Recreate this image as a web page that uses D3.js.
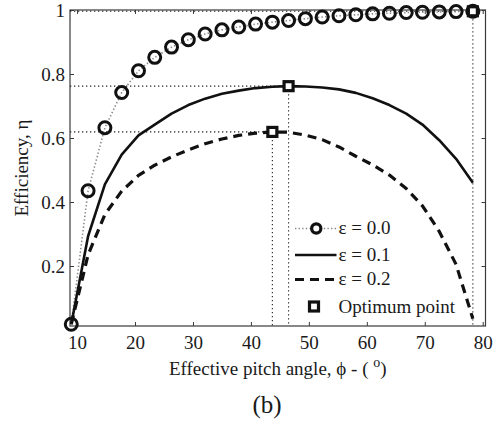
<!DOCTYPE html>
<html>
<head>
<meta charset="utf-8">
<script src="https://cdn.jsdelivr.net/npm/d3@7/dist/d3.min.js"></script>
<style>
  html, body { margin: 0; padding: 0; background: #fff; }
  svg { display: block; }
  text { font-family: "Liberation Serif", "Times New Roman", serif; fill: #1a1a1a; }
</style>
</head>
<body>
<svg id="chart" width="498" height="423"></svg>
<script>
// Effective pitch angle (degrees) at which efficiency was evaluated
const phi = [9.0, 11.9, 14.8, 17.7, 20.6, 23.4, 26.3, 29.2, 32.1, 35.0, 37.9, 40.8, 43.7,
             46.5, 49.4, 52.3, 55.2, 58.1, 61.0, 63.9, 66.8, 69.6, 72.5, 75.4, 78.3];

// Efficiency for each friction ratio epsilon
const eta00 = [0.018, 0.435, 0.632, 0.742, 0.810, 0.852, 0.884, 0.907, 0.925, 0.938, 0.947, 0.956, 0.962,
               0.967, 0.973, 0.978, 0.982, 0.985, 0.988, 0.990, 0.992, 0.993, 0.994, 0.995, 0.996];
const eta01 = [0.018, 0.293, 0.455, 0.548, 0.608, 0.642, 0.676, 0.703, 0.723, 0.738, 0.748, 0.756, 0.760,
               0.762, 0.761, 0.758, 0.752, 0.741, 0.724, 0.703, 0.676, 0.642, 0.593, 0.535, 0.460];
const eta02 = [0.018, 0.235, 0.361, 0.434, 0.483, 0.515, 0.541, 0.563, 0.582, 0.597, 0.608, 0.615, 0.619,
               0.618, 0.609, 0.595, 0.572, 0.543, 0.516, 0.484, 0.442, 0.388, 0.308, 0.205, 0.035];

const seriesLabels = ["ε = 0.0", "ε = 0.1", "ε = 0.2"];
const optimumLabel = "Optimum point";

const xTicks = [10, 20, 30, 40, 50, 60, 70, 80];
const yTicks = [0.2, 0.4, 0.6, 0.8, 1];

const svg = d3.select("#chart");
const plot = { left: 70, top: 10, right: 485.5, bottom: 326 };

const x = d3.scaleLinear().domain([8.78, 80.48]).range([plot.left, plot.right]);
const y = d3.scaleLinear().domain([0.0125, 1]).range([plot.bottom, plot.top]);

const series = [
  { label: seriesLabels[0], values: eta00, stroke: "#8a8a8a", width: 1.6, dash: "1.4,2.2", marker: "circle" },
  { label: seriesLabels[1], values: eta01, stroke: "#111", width: 2.6, dash: null },
  { label: seriesLabels[2], values: eta02, stroke: "#111", width: 3.2, dash: "9,6" }
];

// Optimum of each curve: the point of highest efficiency
series.forEach(s => {
  const i = d3.maxIndex(s.values);
  s.opt = { phi: phi[i], eta: s.values[i] };
});

// Frame
svg.append("rect")
  .attr("x", plot.left).attr("y", plot.top)
  .attr("width", plot.right - plot.left).attr("height", plot.bottom - plot.top)
  .attr("fill", "none").attr("stroke", "#3a3a3a").attr("stroke-width", 1.2);

// Axes with inward ticks on all four sides
const tickLen = 4;
const gx = svg.append("g").attr("transform", `translate(0,${plot.bottom})`)
  .call(d3.axisBottom(x).tickValues(xTicks).tickSizeInner(-tickLen).tickSizeOuter(0).tickPadding(10));
const gxTop = svg.append("g").attr("transform", `translate(0,${plot.top})`)
  .call(d3.axisTop(x).tickValues(xTicks).tickSizeInner(-tickLen).tickSizeOuter(0).tickFormat(""));
const gy = svg.append("g").attr("transform", `translate(${plot.left},0)`)
  .call(d3.axisLeft(y).tickValues(yTicks).tickSizeInner(-tickLen).tickSizeOuter(0).tickPadding(5)
    .tickFormat(d => d === 1 ? "1" : d3.format(".1f")(d)));
const gyRight = svg.append("g").attr("transform", `translate(${plot.right},0)`)
  .call(d3.axisRight(y).tickValues(yTicks).tickSizeInner(-tickLen).tickSizeOuter(0).tickFormat(""));

[gx, gxTop, gy, gyRight].forEach(g => {
  g.select(".domain").remove();
  g.selectAll(".tick line").attr("stroke", "#3a3a3a").attr("stroke-width", 1);
  g.selectAll(".tick text")
    .attr("font-family", "Liberation Serif, serif").attr("font-size", 19).attr("fill", "#1a1a1a");
});

// Guide lines from the axes to each optimum point
const guides = svg.append("g");
series.forEach(s => {
  guides.append("line")
    .attr("x1", plot.left).attr("x2", x(s.opt.phi))
    .attr("y1", y(s.opt.eta)).attr("y2", y(s.opt.eta))
    .attr("stroke", "#222").attr("stroke-width", 1.1).attr("stroke-dasharray", "1.3,2.7");
  guides.append("line")
    .attr("x1", x(s.opt.phi)).attr("x2", x(s.opt.phi))
    .attr("y1", y(s.opt.eta)).attr("y2", plot.bottom)
    .attr("stroke", "#222").attr("stroke-width", 1.1).attr("stroke-dasharray", "1.3,2.7");
});

// Efficiency curves
const line = d3.line().x((d, i) => x(phi[i])).y(d => y(d));
series.forEach(s => {
  svg.append("path")
    .datum(s.values)
    .attr("d", line)
    .attr("fill", "none")
    .attr("stroke", s.stroke)
    .attr("stroke-width", s.width)
    .attr("stroke-linejoin", "round")
    .attr("stroke-dasharray", s.dash);
});

// Circle markers on the frictionless curve
svg.append("g").selectAll("circle")
  .data(eta00)
  .join("circle")
  .attr("cx", (d, i) => x(phi[i]))
  .attr("cy", d => y(d))
  .attr("r", 6)
  .attr("fill", "none")
  .attr("stroke", "#111")
  .attr("stroke-width", 3);

// Optimum point markers
const sq = 9;
svg.append("g").selectAll("rect")
  .data(series)
  .join("rect")
  .attr("x", s => x(s.opt.phi) - sq / 2)
  .attr("y", s => y(s.opt.eta) - sq / 2)
  .attr("width", sq).attr("height", sq)
  .attr("fill", "#fff")
  .attr("stroke", "#111")
  .attr("stroke-width", 3.2);

// Legend
const legend = svg.append("g");
const lx0 = 295, lx1 = 336.5, ltx = 338.5;
const rows = [228.5, 255, 279.5];
series.forEach((s, k) => {
  legend.append("line")
    .attr("x1", lx0).attr("x2", lx1).attr("y1", rows[k]).attr("y2", rows[k])
    .attr("stroke", s.stroke).attr("stroke-width", s.width)
    .attr("stroke-dasharray", s.dash);
  if (s.marker === "circle") {
    legend.append("circle")
      .attr("cx", (lx0 + lx1) / 2 + 0.5).attr("cy", rows[k]).attr("r", 4.6)
      .attr("fill", "#fff").attr("stroke", "#111").attr("stroke-width", 3.2);
  }
  legend.append("text")
    .attr("x", ltx).attr("y", rows[k] + 5.5)
    .attr("font-size", 19)
    .text(s.label);
});
legend.append("rect")
  .attr("x", 314 - sq / 2).attr("y", 306.5 - sq / 2)
  .attr("width", sq).attr("height", sq)
  .attr("fill", "#fff").attr("stroke", "#111").attr("stroke-width", 3.2);
legend.append("text")
  .attr("x", ltx).attr("y", 312.5)
  .attr("font-size", 19)
  .text(optimumLabel);

// Axis titles
const xt = svg.append("text")
  .attr("x", (plot.left + plot.right) / 2).attr("y", 375)
  .attr("text-anchor", "middle")
  .attr("font-size", 19);
xt.append("tspan").text("Effective pitch angle, ϕ - ( ");
xt.append("tspan").attr("dy", -8).attr("font-size", 14).text("o");
xt.append("tspan").attr("dy", 8).text(")");

svg.append("text")
  .attr("transform", `translate(27.5,${(plot.top + plot.bottom) / 2}) rotate(-90)`)
  .attr("text-anchor", "middle")
  .attr("font-size", 19)
  .text("Efficiency, η");

svg.append("text")
  .attr("x", 267).attr("y", 413)
  .attr("text-anchor", "middle")
  .attr("font-size", 25)
  .text("(b)");
</script>
</body>
</html>
